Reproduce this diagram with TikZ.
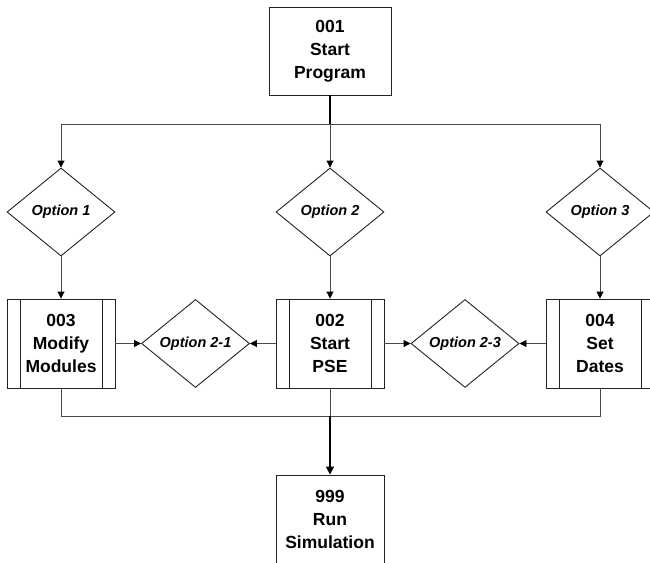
\documentclass[tikz,border=0pt]{standalone}
\usepackage{fontspec}
\setmainfont{Liberation Sans}
\usetikzlibrary{shapes.geometric,arrows.meta}
\definecolor{linegray}{HTML}{4A4A4A}
\definecolor{boxline}{HTML}{222222}
\tikzset{
  boxtext/.style={font=\fontsize{17.5}{23}\selectfont\bfseries, align=center},
  plainbox/.style={draw=boxline, line width=0.9pt, rectangle, inner sep=0pt, boxtext},
  procbox/.style={plainbox, minimum width=108pt, minimum height=89pt,
    path picture={
      \draw[boxline, line width=0.9pt] ([xshift=13pt]path picture bounding box.north west) -- ([xshift=13pt]path picture bounding box.south west);
      \draw[boxline, line width=0.9pt] ([xshift=-13pt]path picture bounding box.north east) -- ([xshift=-13pt]path picture bounding box.south east);
    }},
  choice/.style={draw=boxline, line width=0.9pt, diamond, inner sep=0pt, minimum width=108pt, minimum height=88pt,
    font=\fontsize{14.5}{17}\selectfont\bfseries\itshape},
  conn/.style={draw=linegray, line width=0.9pt},
  tip/.style={-{Triangle[length=7pt,width=7pt,color=black]}},
  mainconn/.style={draw=black, line width=1.4pt},
}
\begin{document}
\begin{tikzpicture}[x=1pt,y=-1pt]
\useasboundingbox (0,0) rectangle (650,562);
\clip (0,0) rectangle (650,562);
% top
\node[plainbox, minimum width=122pt, minimum height=88pt] (start) at (330,51) {001\\Start\\Program};
% diamonds
\node[choice] (o1) at (61,212) {Option 1};
\node[choice] (o2) at (330,212) {Option 2};
\node[choice] (o3) at (600,212) {Option 3};
% process boxes
\node[procbox] (b003) at (61,343.5) {003\\Modify\\Modules};
\node[procbox] (b002) at (330,343.5) {002\\Start\\PSE};
\node[procbox] (b004) at (600,343.5) {004\\Set\\Dates};
\node[choice] (o21) at (195.5,343.5) {Option 2-1};
\node[choice] (o23) at (465,343.5) {Option 2-3};
% bottom
\node[plainbox, minimum width=108pt, minimum height=89pt] (run) at (330,519.5) {999\\Run\\Simulation};
% junction coordinates
\coordinate (jt) at (330,124);
\coordinate (jl) at (61,124);
\coordinate (jr) at (600,124);
\coordinate (jb) at (330,416);
\coordinate (jbl) at (61,416);
\coordinate (jbr) at (600,416);
% connectors top
\draw[mainconn] (start.south) -- (jt);
\draw[conn, tip] (jt) -- (o2.north);
\draw[conn, tip] (jt) -- (jl) -- (o1.north);
\draw[conn, tip] (jt) -- (jr) -- (o3.north);
% diamonds to boxes
\draw[conn, tip] (o1.south) -- (b003.north);
\draw[conn, tip] (o2.south) -- (b002.north);
\draw[conn, tip] (o3.south) -- (b004.north);
% side options
\draw[conn, tip] (b003.east) -- (o21.west);
\draw[conn, tip] (b002.west) -- (o21.east);
\draw[conn, tip] (b002.east) -- (o23.west);
\draw[conn, tip] (b004.west) -- (o23.east);
% bottom
\draw[conn] (b003.south) -- (jbl) -- (jbr) -- (b004.south);
\draw[conn] (b002.south) -- (jb);
\draw[mainconn, -{Triangle[length=8pt,width=8pt]}] (jb) -- (run.north);
\end{tikzpicture}
\end{document}
